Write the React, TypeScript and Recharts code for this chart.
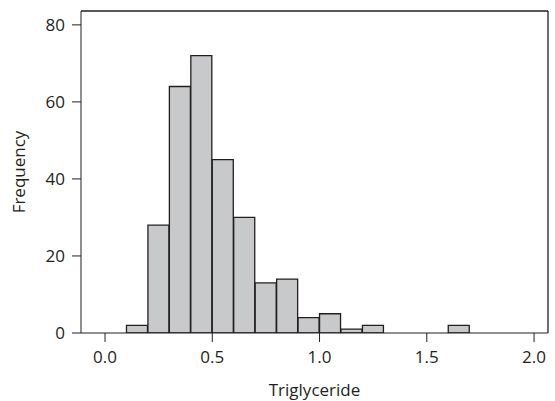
import { BarChart, Bar, XAxis, YAxis, Label, ReferenceLine } from 'recharts';

const binStarts = [0.1, 0.2, 0.3, 0.4, 0.5, 0.6, 0.7, 0.8, 0.9, 1.0, 1.1, 1.2, 1.3, 1.4, 1.5, 1.6];
const counts = [2, 28, 64, 72, 45, 30, 13, 14, 4, 5, 1, 2, 0, 0, 0, 2];
const xTicks = [0, 0.5, 1.0, 1.5, 2.0];
const yTicks = [0, 20, 40, 60, 80];
const xDomain = [-0.112, 2.065];
const yDomain = [0, 83.6];

const ink = '#231f20';
const font = '"Open Sans", sans-serif';

const data = binStarts.map((s, i) => ({ mid: +(s + 0.05).toFixed(2), count: counts[i] }));

export default function App() {
  return (
    <div style={{ position: 'absolute', left: 0, top: 0, fontFamily: font }}>
      <BarChart width={555} height={401} data={data} margin={{ top: 11, right: 7, left: 0, bottom: 0 }}
                barCategoryGap={0} barGap={0}>
        <XAxis dataKey="mid" type="number" domain={xDomain} ticks={xTicks} allowDataOverflow
               tickFormatter={(v: number) => v.toFixed(1)} height={68} tickSize={9} tickMargin={9}
               stroke={ink} tick={{ fill: ink, fontSize: 17, fontFamily: font }}>
          <Label value="Triglyceride" position="insideBottom" offset={5} fill={ink} fontSize={17} fontFamily={font} />
        </XAxis>
        <YAxis domain={yDomain} ticks={yTicks} width={81} tickSize={9} tickMargin={7} allowDataOverflow
               stroke={ink} tick={{ fill: ink, fontSize: 17, fontFamily: font }}>
          <Label content={({ viewBox }: any) => {
            const cx = viewBox.x + 18;
            const cy = viewBox.y + viewBox.height / 2;
            return (
              <text x={cx} y={cy} transform={`rotate(-90 ${cx} ${cy})`} textAnchor="middle"
                    dominantBaseline="central" fill={ink} fontSize={17} fontFamily={font}>Frequency</text>
            );
          }} />
        </YAxis>
        <ReferenceLine y={yDomain[1]} stroke={ink} strokeWidth={1.3} />
        <ReferenceLine x={xDomain[1]} stroke={ink} strokeWidth={1.3} />
        <Bar dataKey="count" fill="#c8c9cb" stroke={ink} strokeWidth={1.3} isAnimationActive={false} />
      </BarChart>
    </div>
  );
}
